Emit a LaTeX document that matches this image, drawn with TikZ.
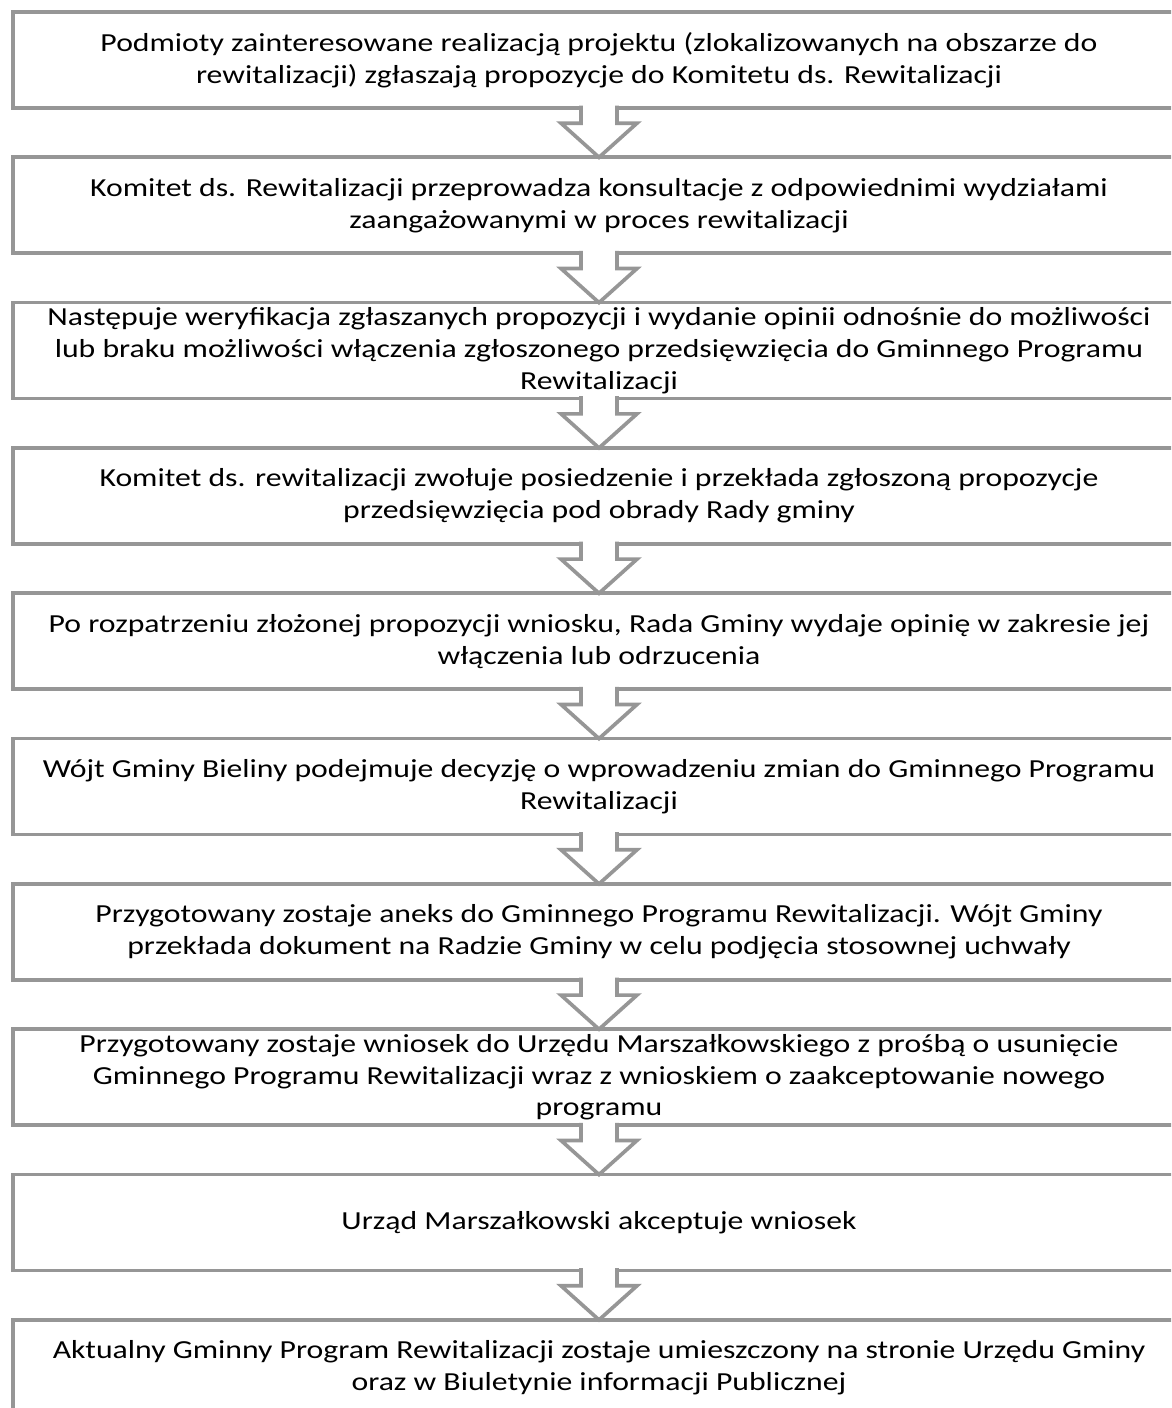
\documentclass[tikz,border=0pt]{standalone}
\usepackage{fontspec}
\setmainfont{Carlito}[FakeStretch=1.22]
\usepackage{tikz}
\usetikzlibrary{positioning, calc}
\definecolor{ramka}{RGB}{150,150,150}

\begin{document}
\begin{tikzpicture}[line width=2.6pt, node distance=1.233cm,
    krok/.style={draw=ramka, rectangle, inner sep=0pt, outer sep=0pt, minimum width=29.3cm, minimum height=2.4cm, align=center, font=\fontsize{18.5}{22.7}\selectfont},
    strzalka/.style={fill=white, draw=ramka, line join=miter}]
                \useasboundingbox (0, 0) rectangle (29.275, -35.2);
                \clip (0, 0) rectangle (29.275, -35.2);
                \node[krok] (b1) at (14.975, -1.5) {Podmioty zainteresowane realizacją projektu (zlokalizowanych na obszarze do\\ rewitalizacji) zgłaszają propozycje do Komitetu ds. Rewitalizacji};
                \node[krok, below=of b1] (b2) {Komitet ds. Rewitalizacji przeprowadza konsultacje z odpowiednimi wydziałami\\ zaangażowanymi w proces rewitalizacji};
                \node[krok, below=of b2] (b3) {Następuje weryfikacja zgłaszanych propozycji i wydanie opinii odnośnie do możliwości\\ lub braku możliwości włączenia zgłoszonego przedsięwzięcia do Gminnego Programu\\ Rewitalizacji};
                \node[krok, below=of b3] (b4) {Komitet ds. rewitalizacji zwołuje posiedzenie i przekłada zgłoszoną propozycje\\ przedsięwzięcia pod obrady Rady gminy};
                \node[krok, below=of b4] (b5) {Po rozpatrzeniu złożonej propozycji wniosku, Rada Gminy wydaje opinię w zakresie jej\\ włączenia lub odrzucenia};
                \node[krok, below=of b5] (b6) {Wójt Gminy Bieliny podejmuje decyzję o wprowadzeniu zmian do Gminnego Programu\\ Rewitalizacji};
                \node[krok, below=of b6] (b7) {Przygotowany zostaje aneks do Gminnego Programu Rewitalizacji. Wójt Gminy\\ przekłada dokument na Radzie Gminy w celu podjęcia stosownej uchwały};
                \node[krok, below=of b7] (b8) {Przygotowany zostaje wniosek do Urzędu Marszałkowskiego z prośbą o usunięcie\\ Gminnego Programu Rewitalizacji wraz z wnioskiem o zaakceptowanie nowego\\ programu};
                \node[krok, below=of b8] (b9) {Urząd Marszałkowski akceptuje wniosek};
                \node[krok, below=of b9] (b10) {Aktualny Gminny Program Rewitalizacji zostaje umieszczony na stronie Urzędu Gminy\\ oraz w Biuletynie informacji Publicznej};
                \filldraw[strzalka] ($(b1.south)+(-0.45, 0.06)$) -- ++(0, -0.44) -- ++(-0.5, 0) -- (b2.north) -- ($(b1.south)+(0.95, -0.38)$) -- ++(-0.5, 0) -- ++(0, 0.44);
                \filldraw[strzalka] ($(b2.south)+(-0.45, 0.06)$) -- ++(0, -0.44) -- ++(-0.5, 0) -- (b3.north) -- ($(b2.south)+(0.95, -0.38)$) -- ++(-0.5, 0) -- ++(0, 0.44);
                \filldraw[strzalka] ($(b3.south)+(-0.45, 0.06)$) -- ++(0, -0.44) -- ++(-0.5, 0) -- (b4.north) -- ($(b3.south)+(0.95, -0.38)$) -- ++(-0.5, 0) -- ++(0, 0.44);
                \filldraw[strzalka] ($(b4.south)+(-0.45, 0.06)$) -- ++(0, -0.44) -- ++(-0.5, 0) -- (b5.north) -- ($(b4.south)+(0.95, -0.38)$) -- ++(-0.5, 0) -- ++(0, 0.44);
                \filldraw[strzalka] ($(b5.south)+(-0.45, 0.06)$) -- ++(0, -0.44) -- ++(-0.5, 0) -- (b6.north) -- ($(b5.south)+(0.95, -0.38)$) -- ++(-0.5, 0) -- ++(0, 0.44);
                \filldraw[strzalka] ($(b6.south)+(-0.45, 0.06)$) -- ++(0, -0.44) -- ++(-0.5, 0) -- (b7.north) -- ($(b6.south)+(0.95, -0.38)$) -- ++(-0.5, 0) -- ++(0, 0.44);
                \filldraw[strzalka] ($(b7.south)+(-0.45, 0.06)$) -- ++(0, -0.44) -- ++(-0.5, 0) -- (b8.north) -- ($(b7.south)+(0.95, -0.38)$) -- ++(-0.5, 0) -- ++(0, 0.44);
                \filldraw[strzalka] ($(b8.south)+(-0.45, 0.06)$) -- ++(0, -0.44) -- ++(-0.5, 0) -- (b9.north) -- ($(b8.south)+(0.95, -0.38)$) -- ++(-0.5, 0) -- ++(0, 0.44);
                \filldraw[strzalka] ($(b9.south)+(-0.45, 0.06)$) -- ++(0, -0.44) -- ++(-0.5, 0) -- (b10.north) -- ($(b9.south)+(0.95, -0.38)$) -- ++(-0.5, 0) -- ++(0, 0.44);
\end{tikzpicture}
\end{document}
